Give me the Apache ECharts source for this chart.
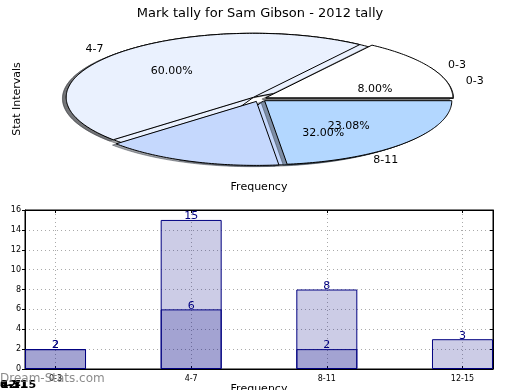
<!DOCTYPE html>
<html><head><meta charset="utf-8">
<script src="https://cdn.jsdelivr.net/npm/echarts@6/dist/echarts.min.js"></script>
<style>html,body{margin:0;padding:0;background:#fff}#c{width:520px;height:390px}</style>
</head><body><div id="c"></div>
<script>
const chartTitle = 'Mark tally for Sam Gibson - 2012 tally';
const categories = ['0-3', '4-7', '8-11', '12-15'];
// pie drawn first (mostly hidden, its labels remain visible)
const pieAValues = [2, 15, 8];
const pieALabels = ['0-3', '4-7', '8-11'];
const pieAShowPct = [true, true, true];
// pie drawn on top
const pieBValues = [2, 6, 2, 3];
const pieBLabels = ['0-3', '', '', ''];
const pieBShowPct = [false, false, false, true];
const pieColors = ['#ffffff', '#eaf1fe', '#c5d8fd', '#b3d7ff'];
// bar chart
const barTotal = [2, 15, 8, 3];
const barSub = [2, 6, 2, null];
const barPositions = [0, 1, 2, 3];

const FONT = 'DejaVu Sans';
const EXPLODE = 0.04;

function rgbScale(hex, f) {
  const n = parseInt(hex.slice(1), 16);
  const r = Math.round(((n >> 16) & 255) * f), g = Math.round(((n >> 8) & 255) * f), b = Math.round((n & 255) * f);
  return 'rgb(' + r + ',' + g + ',' + b + ')';
}

function pieSeries(values, labels, showPct, zBase) {
  const total = values.reduce((a, b) => a + b, 0);
  const starts = [];
  let acc = 0;
  values.forEach(v => { starts.push(acc); acc += v; });
  return {
    type: 'custom', xAxisIndex: 0, yAxisIndex: 0, z: 2, silent: true,
    data: values.map(v => [0, 0, v]),
    encode: { x: 0, y: 1 },
    renderItem(params, api) {
      const i = params.dataIndex;
      const v = api.value(2);
      const a0 = starts[i] / total * 2 * Math.PI;
      const a1 = (starts[i] + v) / total * 2 * Math.PI;
      const am = (a0 + a1) / 2;
      const ex = EXPLODE * Math.cos(am), ey = EXPLODE * Math.sin(am);
      const pts = (ox, oy) => {
        const p = [api.coord([ex + ox, ey + oy])];
        const n = Math.max(2, Math.ceil((a1 - a0) / (Math.PI / 180)));
        for (let k = 0; k <= n; k++) {
          const t = a0 + (a1 - a0) * k / n;
          p.push(api.coord([ex + ox + Math.cos(t), ey + oy + Math.sin(t)]));
        }
        return p;
      };
      const col = pieColors[i % pieColors.length];
      const shadowCol = rgbScale(col, 0.3);
      const children = [
        { type: 'polygon', z2: zBase + 2 * i, shape: { points: pts(-0.02, -0.02) },
          style: { fill: shadowCol, stroke: shadowCol, lineWidth: 1, opacity: 0.5 } },
        { type: 'polygon', z2: zBase + 2 * i + 1, shape: { points: pts(0, 0) },
          style: { fill: col, stroke: '#000', lineWidth: 1 } }
      ];
      if (labels[i]) {
        const lp = api.coord([ex + 1.1 * Math.cos(am), ey + 1.1 * Math.sin(am)]);
        children.push({ type: 'text', z2: 200, x: lp[0], y: lp[1],
          style: { text: labels[i], font: '11px "' + FONT + '"', fill: '#000',
            align: Math.cos(am) > 0 ? 'left' : 'right', verticalAlign: 'middle' } });
      }
      if (showPct[i]) {
        const pp = api.coord([ex + 0.6 * Math.cos(am), ey + 0.6 * Math.sin(am)]);
        children.push({ type: 'text', z2: 200, x: pp[0], y: pp[1],
          style: { text: (v / total * 100).toFixed(2) + '%', font: '11px "' + FONT + '"', fill: '#000',
            align: 'center', verticalAlign: 'middle' } });
      }
      return { type: 'group', children };
    }
  };
}

const gridLine = { show: true, lineStyle: { color: '#aaa', type: [1, 3], width: 1 } };
const blackLine = { show: true, onZero: false, lineStyle: { color: '#000', width: 1 } };

const option = {
  animation: false,
  backgroundColor: '#fff',
  textStyle: { fontFamily: FONT },
  title: { text: chartTitle, left: 'center', top: 2,
    textStyle: { fontFamily: FONT, fontSize: 13, fontWeight: 'normal', color: '#000' } },
  grid: [
    { left: 25, width: 468, top: 19, height: 160, outerBoundsMode: 'none', containLabel: false },
    { left: 25, width: 468, top: 210, height: 159, show: true, borderColor: '#000', borderWidth: 1,
      outerBoundsMode: 'none', containLabel: false }
  ],
  xAxis: [
    { gridIndex: 0, type: 'value', min: -1.25, max: 1.25, name: 'Frequency',
      nameLocation: 'middle', nameGap: 3,
      nameTextStyle: { fontFamily: FONT, fontSize: 11, color: '#000', verticalAlign: 'top' },
      axisLine: { show: false, onZero: false }, axisTick: { show: false }, axisLabel: { show: false }, splitLine: { show: false } },
    { gridIndex: 1, type: 'value', min: -0.225, max: 3.225, name: 'Frequency',
      nameLocation: 'middle', nameGap: 15,
      nameTextStyle: { fontFamily: FONT, fontSize: 11, color: '#000', verticalAlign: 'top' },
      axisLine: blackLine,
      axisTick: { show: true, inside: true, length: 3, customValues: barPositions, lineStyle: { color: '#000' } },
      axisLabel: { show: true, customValues: barPositions, fontSize: 8, color: '#000', margin: 6,
        formatter: v => categories[Math.round(v)] },
      splitLine: gridLine },
    { gridIndex: 1, type: 'value', position: 'top', min: -0.225, max: 3.225,
      axisLine: blackLine,
      axisTick: { show: true, inside: true, length: 3, customValues: barPositions, lineStyle: { color: '#000' } },
      axisLabel: { show: false }, splitLine: { show: false } }
  ],
  yAxis: [
    { gridIndex: 0, type: 'value', min: -1.25, max: 1.25, name: 'Stat Intervals',
      nameLocation: 'middle', nameGap: 2,
      nameTextStyle: { fontFamily: FONT, fontSize: 11, color: '#000' },
      axisLine: { show: false, onZero: false }, axisTick: { show: false }, axisLabel: { show: false }, splitLine: { show: false } },
    { gridIndex: 1, type: 'value', min: 0, max: 16, interval: 2,
      axisLine: blackLine,
      axisTick: { show: true, length: 3, lineStyle: { color: '#000' } },
      axisLabel: { fontSize: 8, color: '#000', margin: 4 },
      splitLine: gridLine },
    { gridIndex: 1, type: 'value', position: 'right', min: 0, max: 16, interval: 2,
      axisLine: blackLine,
      axisTick: { show: true, inside: true, length: 3, lineStyle: { color: '#000' } },
      axisLabel: { show: false }, splitLine: { show: false } }
  ],
  series: [
    pieSeries(pieAValues, pieALabels, pieAShowPct, 0),
    pieSeries(pieBValues, pieBLabels, pieBShowPct, 20),
    { type: 'bar', xAxisIndex: 1, yAxisIndex: 1, barWidth: 61, barGap: '-100%',
      data: barTotal.map((v, i) => [barPositions[i], v]),
      itemStyle: { color: 'rgba(0,0,128,0.2)', borderColor: '#000080', borderWidth: 1 },
      label: { show: true, position: 'top', distance: -2, color: '#000080', fontSize: 11, fontFamily: FONT },
      silent: true },
    { type: 'bar', xAxisIndex: 1, yAxisIndex: 1, barWidth: 61, barGap: '-100%',
      data: barSub.map((v, i) => [barPositions[i], v == null ? '-' : v]),
      itemStyle: { color: 'rgba(0,0,128,0.2)', borderColor: '#000080', borderWidth: 1 },
      label: { show: true, position: 'top', distance: -2, color: '#000080', fontSize: 11, fontFamily: FONT },
      silent: true }
  ],
  graphic: [
    ...categories.map((c, k) => ({ type: 'text', left: k % 2, top: 380, z: 100, silent: true,
      style: { text: c, font: 'bold 11px "' + FONT + '"', fill: '#000' } })),
    { type: 'text', left: 0, top: 373, z: 101, silent: true,
      style: { text: 'Dream-Stats.com', font: '12px "' + FONT + '"', fill: 'rgba(120,120,120,0.85)' } }
  ]
};

const chart = echarts.init(document.getElementById('c'), null, { renderer: 'canvas' });
chart.setOption(option);
</script>
</body></html>
